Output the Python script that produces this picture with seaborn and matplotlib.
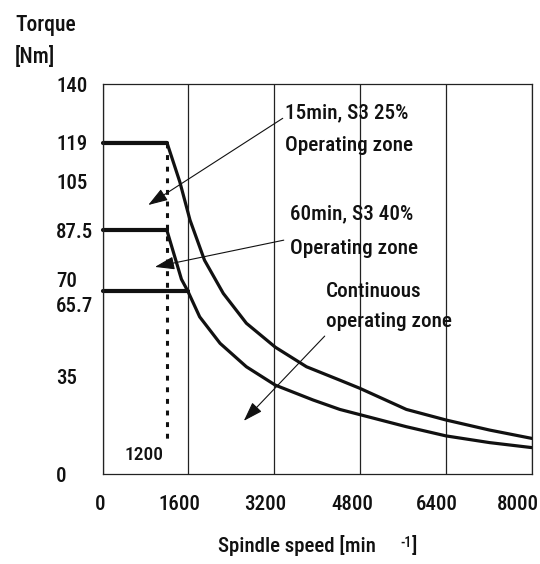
import matplotlib
matplotlib.use("Agg")
import matplotlib.pyplot as plt
import matplotlib.transforms as mtransforms
import pandas as pd
import seaborn as sns

sns.set_theme(style="white")
plt.rcParams["font.family"] = ["Roboto Condensed", "Archivo Narrow", "DejaVu Sans"]
plt.rcParams["font.weight"] = "medium"

# Torque curves (speed in min^-1, torque in Nm)
s3_25_speed = [0, 1200, 1440, 1630, 1900, 2250, 2680, 3220, 3800, 4420, 4790, 5660, 6400, 7210, 8000]
s3_25_torque = [119, 119, 104.9, 91.2, 76.8, 64.9, 54.2, 45.6, 38.6, 33.8, 30.9, 23.3, 19.5, 15.9, 12.9]

s3_40_speed = [0, 1200, 1470, 1590]
s3_40_torque = [87.5, 87.5, 70, 65.7]

cont_speed = [0, 1590, 1810, 2190, 2680, 3220, 3920, 4420, 4800, 5660, 6400, 7210, 8000]
cont_torque = [65.7, 65.7, 56.5, 47.0, 38.6, 32.0, 26.7, 23.3, 21.4, 17.1, 13.8, 11.4, 9.6]

base_speed = 1200
base_marker_torque = [119, 12]

x_ticks = [0, 1600, 3200, 4800, 6400, 8000]
y_ticks = [0, 35, 65.7, 70, 87.5, 105, 119, 140]
y_tick_labels = ["0", "35", "65.7", "70", "87.5", "105", "119", "140"]
y_grid = [0, 35, 70, 105, 140]

zone_labels = ["15min, S3 25%\nOperating zone",
               "60min, S3 40%\nOperating zone",
               "Continuous\noperating zone"]

INK = "#111111"

curvas = pd.concat([
    pd.DataFrame({"speed": s3_25_speed, "torque": s3_25_torque, "zona": "s3_25"}),
    pd.DataFrame({"speed": s3_40_speed, "torque": s3_40_torque, "zona": "s3_40"}),
    pd.DataFrame({"speed": cont_speed, "torque": cont_torque, "zona": "cont"}),
], ignore_index=True)

fig = plt.figure(figsize=(5.4, 5.64), dpi=100)
ax = fig.add_axes([102.5 / 540, 1 - 474.4 / 564, 429.5 / 540, 390.4 / 564])

for zona, sub in curvas.groupby("zona", sort=False):
    sns.lineplot(data=sub, x="speed", y="torque", estimator=None, sort=False,
                 color=INK, lw=2.3, ax=ax, legend=False)
    # the constant-torque part is drawn heavier in the original
    sns.lineplot(data=sub.iloc[:2], x="speed", y="torque", estimator=None, sort=False,
                 color=INK, lw=3.0, ax=ax, legend=False, clip_on=False)

# base speed marker
ax.plot([base_speed, base_speed], base_marker_torque, color=INK, lw=2.2,
        linestyle=(0, (1.6, 2.2)))
ax.text(base_speed - 60, 7.0, str(base_speed), ha="right", va="center",
        fontsize=14, color=INK)

# zone labels with arrows
label_pos = [(3395, 127.6), (3500, 91.4), (4157, 63.5)]
label_gap = [11.8, 12.2, 10.8]
for txt, (lx, ly), gap in zip(zone_labels, label_pos, label_gap):
    first, second = txt.split("\n")
    ax.text(lx, ly, first, ha="left", va="baseline", fontsize=15.2, color=INK)
    ax.text(lx, ly - gap, second, ha="left", va="baseline", fontsize=15.2, color=INK)

arrows = [((3357, 127.7), (852, 96.6)),
          ((3376, 84.0), (977, 74.4)),
          ((4139, 49.6), (2632, 19.2))]
for start, tip in arrows:
    ax.annotate("", xy=tip, xytext=start,
                arrowprops=dict(arrowstyle="-|>,head_length=0.6,head_width=0.2",
                                color=INK, lw=0.8, mutation_scale=20,
                                shrinkA=0, shrinkB=0))

ax.set_xlim(0, 8000)
ax.set_ylim(0, 140)
ax.set_xticks(x_ticks)
ax.set_xticklabels([str(v) for v in x_ticks])
ax.set_yticks(y_ticks)
ax.set_yticklabels(y_tick_labels)
ax.set_yticks(y_grid, minor=True)
ax.tick_params(axis="both", which="both", length=0, labelsize=15, colors=INK)
ax.tick_params(axis="y", pad=33.5)
ax.tick_params(axis="x", pad=15)
for lab in ax.get_yticklabels():
    lab.set_horizontalalignment("left")
# x tick labels sit a little left of their gridlines in the original
x_shift_px = [-2, -9, -9, -8, -9, -14]
for lab, dx in zip(ax.get_xticklabels(), x_shift_px):
    lab.set_transform(lab.get_transform()
                      + mtransforms.ScaledTranslation(dx / 100, 0, fig.dpi_scale_trans))
# 65.7 sits just under 70, nudge it down like the original
drop = mtransforms.ScaledTranslation(0, -13 / 100, fig.dpi_scale_trans)
ax.get_yticklabels()[2].set_transform(ax.get_yticklabels()[2].get_transform() + drop)

ax.grid(False)
ax.grid(True, axis="x", which="major", color="#222222", lw=0.9)
ax.grid(True, axis="y", which="minor", color="#222222", lw=0.9)
for sp in ax.spines.values():
    sp.set_color("#222222")
    sp.set_linewidth(0.9)
ax.set_xlabel("")
ax.set_ylabel("")

fig.text(15 / 540, 1 - 31 / 564, "Torque", fontsize=15.5, color=INK, va="baseline")
fig.text(15 / 540, 1 - 63 / 564, "[Nm]", fontsize=15.5, color=INK, va="baseline")
fig.text(218 / 540, 1 - 552 / 564, "Spindle speed [min", fontsize=15, color=INK, va="baseline")
fig.text(400 / 540, 1 - 547 / 564, "-1", fontsize=10, color=INK, va="baseline")
fig.text(412 / 540, 1 - 552 / 564, "]", fontsize=15, color=INK, va="baseline")

fig.savefig("out.png", dpi=100)
